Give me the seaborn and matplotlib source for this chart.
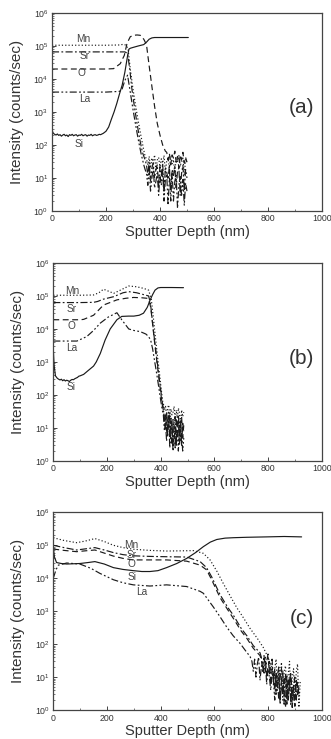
import numpy as np
import pandas as pd
import matplotlib
matplotlib.use("Agg")
import matplotlib.pyplot as plt
import matplotlib.ticker as mticker
import seaborn as sns

# ---------------- data ----------------
# Panel (a)
A_SI_D = [0, 3, 8, 15, 20, 25, 30, 35, 40, 45, 50, 55, 60, 65, 70, 75, 80, 85, 90, 95, 100,
          105, 110, 115, 120, 125, 130, 135, 140, 145, 150, 155, 160, 165, 170, 175, 180, 185,
          190, 200, 210, 220, 230, 240, 250, 260, 270, 280, 285, 290, 300, 320, 340, 345, 350,
          360, 370, 380, 400, 450, 505]
A_SI_I = [300, 240, 215, 200, 215, 195, 205, 185, 200, 210, 190, 200, 180, 205, 195, 210, 190,
          200, 205, 185, 200, 195, 210, 190, 200, 205, 185, 200, 195, 210, 190, 200, 205, 195,
          200, 210, 205, 215, 225, 260, 350, 600, 1000, 1800, 3500, 6500, 16000, 50000, 80000,
          85000, 90000, 100000, 110000, 120000, 130000, 160000, 175000, 180000, 180000, 180000,
          180000]
A_MN_D = [0, 50, 100, 150, 200, 250, 265, 275, 282, 290, 300, 310, 320, 330, 340, 345]
A_MN_I = [105000, 105000, 105000, 105000, 105000, 107000, 112000, 105000, 80000, 20000, 5000,
          1500, 500, 180, 70, 45]
A_SR_D = [0, 50, 100, 150, 200, 250, 270, 280, 288, 296, 305, 315, 325, 335, 345]
A_SR_I = [66000, 66000, 66000, 66000, 66000, 66000, 66000, 60000, 20000, 5000, 1500, 450, 150,
          60, 35]
A_LA_D = [0, 50, 100, 150, 200, 250, 260, 270, 280, 290, 300, 310, 320, 330, 340, 345]
A_LA_I = [4000, 4000, 4000, 4000, 4000, 4200, 5000, 9000, 13000, 4000, 1200, 400, 140, 55, 25,
          18]
A_O_D = [0, 50, 100, 150, 200, 228, 253, 268, 278, 290, 302, 315, 327, 340, 350, 360, 370,
         380, 390, 400, 410, 420]
A_O_I = [20000, 20000, 20000, 20000, 20000, 20500, 29000, 52000, 120000, 190000, 210000,
         215000, 210000, 160000, 110000, 25000, 6000, 1500, 450, 200, 100, 65]
A_NOISE_D = [350, 355, 360, 365, 370, 375, 380, 385, 390, 395, 400, 405, 410, 415, 420, 425,
             430, 435, 440, 445, 450, 455, 460, 465, 470, 475, 480, 485, 490, 495, 500]
A_MN_NOISE = [38, 25, 45, 20, 40, 28, 50, 18, 35, 42, 22, 38, 28, 48, 15, 33, 40, 20, 45, 27,
              36, 14, 42, 30, 48, 22, 35, 40, 12, 38, 30]
A_SR_NOISE = [25, 12, 30, 8, 20, 28, 10, 18, 25, 6, 22, 12, 28, 4, 20, 15, 9, 25, 2, 18, 12,
              22, 5, 16, 20, 3, 14, 24, 4, 18, 10]
A_LA_NOISE = [14, 6, 18, 4, 10, 20, 5, 8, 14, 3, 12, 6, 18, 2, 9, 13, 1.5, 10, 5, 15, 2, 8,
              12, 1.2, 6, 11, 3, 9, 1.5, 7, 4]
A_O_NOISE_D = [425, 430, 435, 440, 445, 450, 455, 460, 465, 470, 475, 480, 485, 490, 495, 500]
A_O_NOISE = [60, 35, 55, 25, 50, 40, 65, 30, 45, 20, 50, 35, 60, 28, 42, 30]

# Panel (b)
B_SI_D = [0, 3, 8, 15, 20, 25, 30, 35, 40, 45, 50, 55, 60, 65, 70, 75, 80, 85, 90, 95, 100,
          113, 130, 150, 160, 175, 193, 212, 237, 255, 280, 300, 320, 336, 350, 361, 370, 379,
          390, 400, 440, 485]
B_SI_I = [2500, 800, 380, 320, 300, 285, 300, 270, 290, 265, 280, 270, 255, 280, 295, 290, 310,
          325, 340, 370, 380, 420, 550, 750, 1000, 1800, 4600, 10000, 19000, 24000, 24500,
          24500, 26000, 30000, 45000, 76000, 110000, 150000, 175000, 180000, 180000, 178000]
B_MN_D = [0, 50, 100, 150, 170, 187, 205, 225, 250, 281, 310, 336, 355, 365, 372, 380, 388,
          395, 402, 408]
B_MN_I = [105000, 105000, 105000, 107000, 125000, 160000, 140000, 120000, 150000, 200000,
          190000, 170000, 150000, 80000, 25000, 6000, 1500, 500, 150, 60]
B_SR_D = [0, 50, 100, 150, 165, 187, 225, 260, 281, 310, 336, 355, 362, 370, 378, 386, 393,
          400, 406]
B_SR_I = [63000, 63000, 63000, 64000, 68000, 80000, 95000, 125000, 135000, 125000, 110000,
          100000, 60000, 15000, 4000, 1200, 400, 150, 60]
B_O_D = [0, 50, 100, 113, 150, 187, 237, 270, 299, 330, 349, 356, 363, 370, 378, 386, 393, 400,
         406]
B_O_I = [19000, 19000, 19000, 19500, 26000, 53000, 76000, 85000, 90000, 88000, 85000, 75000,
         45000, 14000, 3500, 1000, 350, 120, 50]
B_LA_D = [0, 50, 88, 125, 150, 175, 205, 237, 255, 281, 300, 324, 345, 355, 363, 370, 378, 386,
          393, 400, 406]
B_LA_I = [4300, 4300, 4300, 5900, 9000, 15000, 23000, 31000, 19000, 10000, 9000, 8300, 7000,
          5900, 4500, 2500, 1000, 400, 170, 70, 35]
B_NOISE_D = [410, 414, 418, 422, 426, 430, 434, 438, 442, 446, 450, 454, 458, 462, 466, 470,
             474, 478, 482, 486]
B_MN_NOISE = [55, 35, 45, 25, 40, 50, 20, 38, 25, 30, 45, 15, 35, 20, 40, 28, 12, 35, 22, 30]
B_SR_NOISE = [40, 15, 25, 8, 18, 30, 5, 20, 10, 3, 15, 22, 4, 12, 25, 6, 18, 3, 14, 8]
B_O_NOISE = [35, 20, 10, 28, 6, 15, 25, 8, 3, 18, 12, 2.5, 20, 7, 15, 3, 10, 22, 5, 12]
B_LA_NOISE = [25, 8, 15, 4, 10, 20, 2.5, 8, 14, 2, 6, 12, 3, 9, 2, 15, 4, 7, 2, 5]

# Panel (c)
C_SI_D = [0, 4, 12, 30, 50, 99, 130, 155, 190, 224, 260, 298, 330, 360, 390, 422, 460, 497,
          530, 559, 585, 609, 640, 671, 720, 795, 860, 925]
C_SI_I = [90000, 45000, 30000, 28000, 27000, 28000, 30000, 32000, 27000, 21000, 18500, 17000,
          16000, 16000, 17000, 21000, 28000, 40000, 60000, 91000, 125000, 150000, 165000,
          170000, 175000, 180000, 185000, 180000]
C_MN_D = [0, 40, 87, 120, 155, 190, 224, 260, 298, 360, 422, 480, 522, 559, 584, 610, 633, 660,
          683, 710, 733, 760, 782, 800]
C_MN_I = [170000, 140000, 120000, 135000, 160000, 130000, 100000, 85000, 76000, 70000, 67000,
          68000, 69000, 57000, 36000, 16000, 7000, 2800, 1300, 600, 300, 150, 80, 40]
C_SR_D = [0, 40, 87, 120, 155, 190, 224, 260, 298, 360, 422, 497, 547, 571, 590, 621, 650, 671,
          700, 721, 745, 770]
C_SR_I = [100000, 85000, 72000, 78000, 85000, 72000, 60000, 52000, 48000, 46000, 45000, 44000,
          32000, 21000, 11000, 3200, 1300, 750, 300, 180, 90, 55]
C_O_D = [0, 40, 87, 120, 155, 190, 224, 260, 298, 360, 422, 497, 547, 571, 590, 621, 650, 671,
         700, 721, 745, 770]
C_O_I = [77000, 70000, 64000, 68000, 72000, 58000, 47000, 40000, 36000, 36000, 36000, 33000,
         25000, 18000, 9000, 2600, 1100, 600, 250, 150, 75, 45]
C_LA_D = [0, 10, 19, 50, 99, 140, 174, 224, 260, 298, 360, 422, 497, 547, 559, 596, 620, 646,
          670, 696, 715, 733]
C_LA_I = [10000, 18000, 25000, 29000, 27000, 20000, 14000, 9000, 7300, 6300, 5800, 6300, 5600,
          4000, 3500, 1350, 700, 330, 180, 105, 65, 42]
C_MN_NOISE_D = [805, 810, 815, 820, 825, 830, 835, 840, 845, 850, 855, 860, 865, 870, 875, 880,
                885, 890, 895, 900, 905, 910, 915, 920]
C_MN_NOISE = [30, 12, 25, 6, 18, 35, 4, 20, 10, 28, 2, 15, 22, 3, 12, 30, 1.5, 9, 18, 2, 14,
              25, 1.2, 8]
C_SRO_NOISE_D = [775, 780, 785, 790, 795, 800, 805, 810, 815, 820, 825, 830, 835, 840, 845, 850,
                 855, 860, 865, 870, 875, 880, 885, 890, 895, 900, 905, 910, 915]
C_SR_NOISE = [40, 20, 45, 15, 30, 50, 12, 25, 35, 8, 18, 3, 12, 20, 2, 9, 15, 1.5, 6, 12, 2, 8,
              14, 1.2, 5, 10, 2, 7, 3]
C_O_NOISE = [35, 15, 28, 40, 10, 22, 30, 6, 18, 12, 4, 15, 8, 2, 10, 18, 3, 7, 12, 1.5, 9, 4,
             11, 2, 6, 1.3, 8, 3, 5]
C_LA_NOISE_D = [740, 745, 750, 755, 760, 765, 770, 775, 780, 785, 790, 795, 800, 805, 810, 815,
                820, 825, 830, 835, 840, 845, 850, 855, 860, 865, 870, 875, 880, 885, 890, 895,
                900]
C_LA_NOISE = [30, 15, 35, 10, 25, 40, 8, 20, 28, 12, 30, 6, 18, 10, 4, 14, 8, 2, 10, 5, 12, 1.5,
              7, 3, 9, 1.2, 6, 2, 8, 1.5, 5, 3, 1.2]

ELEMENTS = ["Mn", "Sr", "O", "La", "Si"]
PANEL_LABELS = ["(a)", "(b)", "(c)"]
X_TICKS = [0, 200, 400, 600, 800, 1000]
X_LABEL = "Sputter Depth (nm)"
Y_LABEL = "Intensity (counts/sec)"

# ---------------- styling ----------------
sns.set_style("ticks")
plt.rcParams["font.family"] = ["Liberation Sans", "DejaVu Sans"]
plt.rcParams["mathtext.fontset"] = "custom"
plt.rcParams["mathtext.rm"] = "Liberation Sans"
plt.rcParams["mathtext.it"] = "Liberation Sans"

LINE_COLOR = "#1a1a1a"
TEXT_COLOR = "#333333"
STYLES = {
    "Mn": (0, (1.0, 1.8)),
    "Sr": (0, (6, 2, 1.5, 2)),
    "O": (0, (5, 3)),
    "La": (0, (6, 2, 1.5, 2, 1.5, 2)),
    "Si": "-",
}

panels = [
    {
        "series": {
            "Mn": (A_MN_D + A_NOISE_D, A_MN_I + A_MN_NOISE),
            "Sr": (A_SR_D + A_NOISE_D, A_SR_I + A_SR_NOISE),
            "O": (A_O_D + A_O_NOISE_D, A_O_I + A_O_NOISE),
            "La": (A_LA_D + A_NOISE_D, A_LA_I + A_LA_NOISE),
            "Si": (A_SI_D, A_SI_I),
        },
        "labels": {"Mn": (117, 1.6e5), "Sr": (120, 5.0e4), "O": (111, 1.55e4),
                   "La": (123, 2.5e3), "Si": (101, 1.07e2)},
        "rect": [0.157, 0.7145, 0.8157, 0.268],
        "letter_y": 0.52,
    },
    {
        "series": {
            "Mn": (B_MN_D + B_NOISE_D, B_MN_I + B_MN_NOISE),
            "Sr": (B_SR_D + B_NOISE_D, B_SR_I + B_SR_NOISE),
            "O": (B_O_D + B_NOISE_D, B_O_I + B_O_NOISE),
            "La": (B_LA_D + B_NOISE_D, B_LA_I + B_LA_NOISE),
            "Si": (B_SI_D, B_SI_I),
        },
        "labels": {"Mn": (72, 1.45e5), "Sr": (68, 4.0e4), "O": (66, 1.26e4),
                   "La": (68, 2.6e3), "Si": (65, 1.78e2)},
        "rect": [0.161, 0.3762, 0.811, 0.268],
        "letter_y": 0.52,
    },
    {
        "series": {
            "Mn": (C_MN_D + C_MN_NOISE_D, C_MN_I + C_MN_NOISE),
            "Sr": (C_SR_D + C_SRO_NOISE_D, C_SR_I + C_SR_NOISE),
            "O": (C_O_D + C_SRO_NOISE_D, C_O_I + C_O_NOISE),
            "La": (C_LA_D + C_LA_NOISE_D, C_LA_I + C_LA_NOISE),
            "Si": (C_SI_D, C_SI_I),
        },
        "labels": {"Mn": (292, 1.0e5), "Sr": (292, 5.0e4), "O": (292, 2.7e4),
                   "La": (329, 3.9e3), "Si": (292, 1.1e4)},
        "rect": [0.161, 0.0392, 0.811, 0.2675],
        "letter_y": 0.463,
    },
]

fig = plt.figure(figsize=(3.31, 7.39), dpi=100)

for p, letter in zip(panels, PANEL_LABELS):
    ax = fig.add_axes(p["rect"])
    for el in ELEMENTS:
        d, i = p["series"][el]
        df = pd.DataFrame({"depth": d, "intensity": i})
        sns.lineplot(data=df, x="depth", y="intensity", ax=ax, color=LINE_COLOR,
                     estimator=None, sort=False, errorbar=None, linewidth=0.85)
        ax.lines[-1].set_linestyle(STYLES[el])
    ax.set_yscale("log")
    ax.set_xlim(0, 1000)
    ax.set_ylim(1, 1e6)
    ax.set_xticks(X_TICKS)
    ax.set_xticklabels([str(t) for t in X_TICKS])
    ax.xaxis.set_minor_locator(mticker.MultipleLocator(100))
    ax.yaxis.set_major_locator(mticker.LogLocator(base=10, numticks=10))
    ax.yaxis.set_minor_locator(mticker.LogLocator(base=10, subs=np.arange(2, 10), numticks=10))
    ax.yaxis.set_major_formatter(mticker.LogFormatterMathtext())
    ax.tick_params(which="both", direction="in", colors="#444444", labelcolor=TEXT_COLOR,
                   top=False, right=False, labelsize=6.3, pad=2.5)
    ax.tick_params(which="major", length=3, width=0.7)
    ax.tick_params(which="minor", length=1.6, width=0.5)
    for s in ax.spines.values():
        s.set_color("#444444")
        s.set_linewidth(0.9)
    ax.set_xlabel(X_LABEL, fontsize=10.5, color=TEXT_COLOR, labelpad=1)
    ax.set_ylabel(Y_LABEL, fontsize=11, color=TEXT_COLOR, labelpad=7)
    for el, (x, y) in p["labels"].items():
        ax.text(x, y, el, fontsize=7.3, color="#444444", ha="center", va="center")
    ax.text(0.925, p["letter_y"], letter, transform=ax.transAxes, fontsize=15,
            color=TEXT_COLOR, ha="center", va="center")

fig.savefig("out.png", dpi=100)
